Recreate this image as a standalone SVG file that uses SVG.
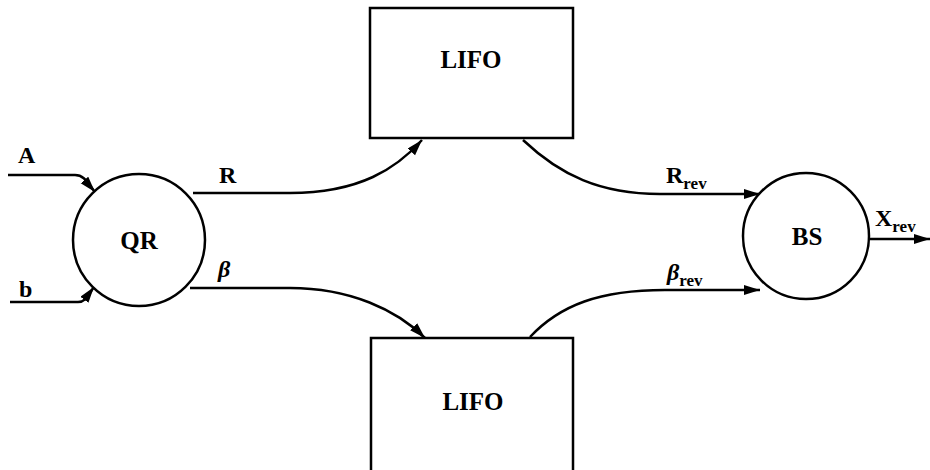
<svg xmlns="http://www.w3.org/2000/svg" width="930" height="470" viewBox="0 0 930 470">
<defs>
<marker id="ah" markerWidth="17" markerHeight="11" refX="16" refY="5" orient="auto" markerUnits="userSpaceOnUse">
<path d="M0,0 L16,5 L0,10 z" fill="#000"/>
</marker>
<style>
.shape{fill:#fff;stroke:#000;stroke-width:2.5}
.edge{fill:none;stroke:#000;stroke-width:2.5;marker-end:url(#ah)}
.lbl{font-family:"Liberation Serif",serif;font-weight:bold;fill:#000}
.node{font-size:25px;text-anchor:middle}
.edgelbl{font-size:24px}
.sub{font-size:17px}
</style>
</defs>
<rect width="930" height="470" fill="#fff"/>
<g id="connectors">
<path class="edge" d="M8,175 L75,175 C85,175 88,184 95,192"/>
<path class="edge" d="M10,302 L78,302 C86,302 88,295 94,287"/>
<path class="edge" d="M193,193 L290,193 C360,193 397,168 422,140"/>
<path class="edge" d="M190,288 L290,288 C350,288 397,310 425,338"/>
<path class="edge" d="M523,140 C560,175 600,194 660,194 L760,194"/>
<path class="edge" d="M530,337 C560,305 600,290 665,290 L760,290"/>
<path class="edge" d="M870,239 L930,239"/>
</g>
<g id="QR">
<circle class="shape" cx="139" cy="240" r="66"/>
<text class="lbl node" x="139" y="249">QR</text>
</g>
<g id="BS">
<circle class="shape" cx="806" cy="236" r="63"/>
<text class="lbl node" x="807" y="245">BS</text>
</g>
<g id="LIFO_top">
<rect class="shape" x="370" y="8" width="203" height="130"/>
<text class="lbl node" x="471" y="68">LIFO</text>
</g>
<g id="LIFO_bottom">
<rect class="shape" x="371" y="338" width="202" height="140"/>
<text class="lbl node" x="473" y="410">LIFO</text>
</g>
<g id="labels">
<text class="lbl edgelbl" x="18" y="163">A</text>
<text class="lbl edgelbl" x="19" y="297">b</text>
<text class="lbl edgelbl" x="219" y="183">R</text>
<text class="lbl edgelbl" x="218" y="277" font-style="italic">β</text>
<text class="lbl edgelbl" x="666" y="183">R<tspan class="sub" dy="6">rev</tspan></text>
<text class="lbl edgelbl" x="667" y="280" font-style="italic">β<tspan class="sub" dy="6" font-style="normal">rev</tspan></text>
<text class="lbl edgelbl" x="875" y="226">X<tspan class="sub" dy="6">rev</tspan></text>
</g>
</svg>
